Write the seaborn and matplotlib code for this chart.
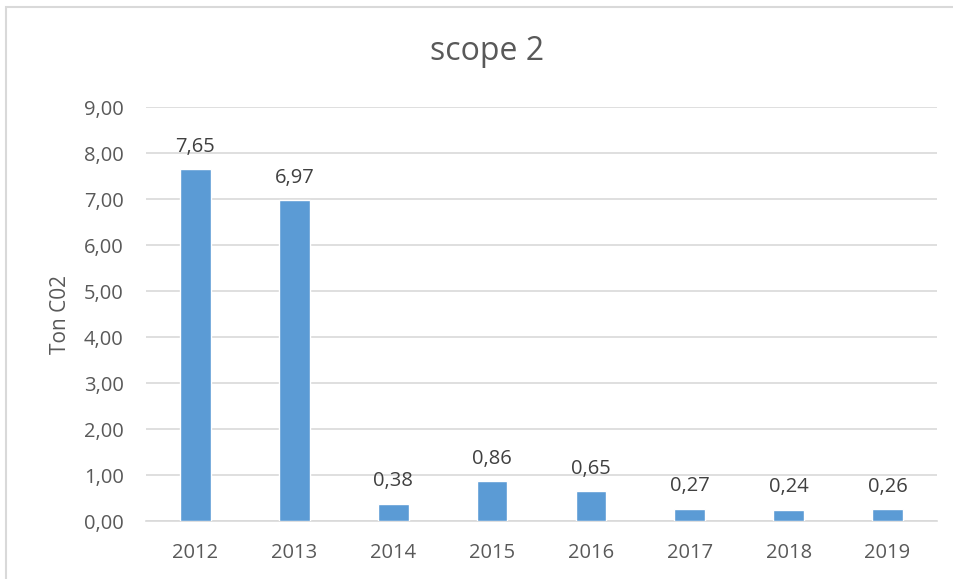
import matplotlib
matplotlib.use("Agg")
import matplotlib.pyplot as plt
import seaborn as sns
import pandas as pd
from matplotlib.patches import Rectangle

years = ["2012", "2013", "2014", "2015", "2016", "2017", "2018", "2019"]
values = [7.65, 6.97, 0.38, 0.86, 0.65, 0.27, 0.24, 0.26]
yticks = [0, 1, 2, 3, 4, 5, 6, 7, 8, 9]
title = "scope 2"
ylabel = "Ton C02"

sns.set_theme(style="white")
plt.rcParams['font.family'] = ['Open Sans', 'DejaVu Sans']

df = pd.DataFrame({"year": years, "value": values})

fig = plt.figure(figsize=(9.54, 5.79), dpi=100)
ax = fig.add_axes([146/954, 1-521/579, (937-146)/954, (521-107)/579])

sns.barplot(data=df, x="year", y="value", color="#5B9BD5", saturation=1,
            width=0.31, ax=ax, zorder=3)

ax.set_ylim(0, 9)
ax.set_yticks(yticks)
ax.set_yticklabels([f"{t:.2f}".replace(".", ",") for t in yticks])
ax.set_xlim(-0.5, len(years) - 0.5)
ax.yaxis.grid(True, color="#D9D9D9", linewidth=1.2, zorder=0)
ax.set_axisbelow(True)
for s in ["left", "right", "top"]:
    ax.spines[s].set_visible(False)
ax.spines["bottom"].set_color("#D9D9D9")
ax.spines["bottom"].set_linewidth(1.2)
ax.tick_params(axis="both", length=0, labelsize=14.5, colors="#595959")
ax.tick_params(axis="y", pad=16)
ax.tick_params(axis="x", pad=16)
ax.set_xlabel("")
ax.set_ylabel(ylabel, fontsize=15, color="#595959", labelpad=9)

ax.bar_label(ax.containers[0], labels=[f"{v:.2f}".replace(".", ",") for v in values],
             padding=9, fontsize=14.5, color="#404040")

fig.text(487/954, 1-52/579, title, ha="center", va="center", fontsize=23, color="#595959")

fig.patches.append(Rectangle((6/954, -0.1), 1.1, 1.1 - 7/579 + 0.0,
                             transform=fig.transFigure, fill=False,
                             edgecolor="#D9D9D9", linewidth=1.5))

fig.savefig("out.png", dpi=100)
